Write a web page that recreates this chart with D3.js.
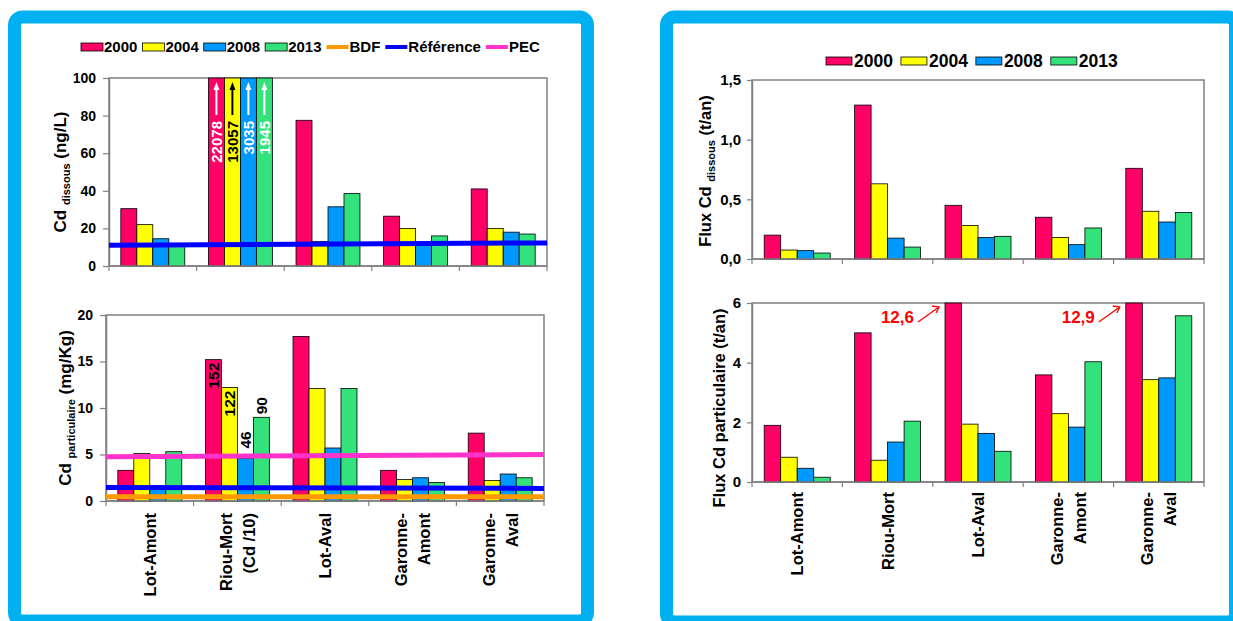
<!DOCTYPE html>
<html lang="fr">
<head>
<meta charset="utf-8">
<title>Cadmium Lot - Garonne</title>
<script src="https://cdn.jsdelivr.net/npm/d3@7"></script>
<style>
  body { margin: 0; background: #fff; }
  svg text { font-family: Arial, "Liberation Sans", sans-serif; font-weight: bold; }
</style>
</head>
<body>
<svg id="chart" width="1233" height="621"></svg>
<script>
var sites = ["Lot-Amont", "Riou-Mort", "Lot-Aval", "Garonne-Amont", "Garonne-Aval"];
var years = ["2000", "2004", "2008", "2013"];
var siteLabelsLeft = [["Lot-Amont"], ["Riou-Mort", "(Cd /10)"], ["Lot-Aval"], ["Garonne-", "Amont"], ["Garonne-", "Aval"]];
var siteLabelsRight = [["Lot-Amont"], ["Riou-Mort"], ["Lot-Aval"], ["Garonne-", "Amont"], ["Garonne-", "Aval"]];

// Cd dissous (ng/L), site order
var dissous2000 = [30.5, 22078, 77.5, 26.5, 41];
var dissous2004 = [22, 13057, 13, 20, 20];
var dissous2008 = [14.5, 3035, 31.5, 11, 18];
var dissous2013 = [12, 1945, 38.5, 16, 17];
var refDissous = [11, 12.3];

// Cd particulaire (mg/Kg), Riou-Mort divided by 10
var part2000 = [3.3, 15.2, 17.7, 3.3, 7.3];
var part2004 = [5.1, 12.2, 12.1, 2.3, 2.2];
var part2008 = [1.6, 4.6, 5.7, 2.5, 2.9];
var part2013 = [5.3, 9.0, 12.1, 2.0, 2.5];
var riouPartLabels = ["152", "122", "46", "90"];
var refPart = [1.45, 1.35];
var pecPart = [4.75, 5.0];
var bdfPart = [0.47, 0.47];

// Flux (t/an)
var fluxDis2000 = [0.20, 1.29, 0.45, 0.35, 0.76];
var fluxDis2004 = [0.075, 0.63, 0.28, 0.18, 0.40];
var fluxDis2008 = [0.07, 0.175, 0.18, 0.12, 0.31];
var fluxDis2013 = [0.05, 0.10, 0.19, 0.26, 0.39];

var fluxPart2000 = [1.9, 5.0, 12.6, 3.59, 12.9];
var fluxPart2004 = [0.83, 0.73, 1.94, 2.29, 3.43];
var fluxPart2008 = [0.46, 1.34, 1.63, 1.84, 3.49];
var fluxPart2013 = [0.16, 2.04, 1.03, 4.03, 5.57];

var colors = ["#FF0066", "#FFFF00", "#0099FF", "#33E27A"];
var svg = d3.select("#chart");

// blue panel frames
svg.append("rect").attr("x", 14.5).attr("y", 17).attr("width", 573).attr("height", 604).attr("rx", 8)
  .attr("fill", "#fff").attr("stroke", "#00B0F0").attr("stroke-width", 13);
svg.append("rect").attr("x", 666.5).attr("y", 17).attr("width", 569).attr("height", 605).attr("rx", 8)
  .attr("fill", "#fff").attr("stroke", "#00B0F0").attr("stroke-width", 13);

function barChart(o) {
  var g = svg.append("g");
  var x = d3.scaleBand().domain(sites).range([o.left, o.right]);
  var bw = x.bandwidth();
  var xs = d3.scaleBand().domain(years).range([bw * 0.135, bw * 0.865]);
  var y = d3.scaleLinear().domain([0, o.max]).range([o.bottom, o.top]).clamp(true);

  // plot frame
  g.append("rect").attr("x", o.left).attr("y", o.top)
    .attr("width", o.right - o.left).attr("height", o.bottom - o.top)
    .attr("fill", "none").attr("stroke", "#808080").attr("stroke-width", 1.5);

  o.series.forEach(function(vals, i) {
    g.selectAll(null).data(vals).enter().append("rect")
      .attr("x", function(d, j) { return x(sites[j]) + xs(years[i]); })
      .attr("y", function(d) { return y(d); })
      .attr("width", xs.bandwidth())
      .attr("height", function(d) { return o.bottom - y(d); })
      .attr("fill", colors[i])
      .attr("stroke", "#000").attr("stroke-width", 0.8);
  });

  var ax = g.append("g").attr("transform", "translate(" + o.left + ",0)")
    .call(d3.axisLeft(y).tickValues(o.ticks).tickFormat(o.fmt)
      .tickSize(o.tickSize).tickPadding(o.tickPad).tickSizeOuter(0));
  ax.attr("font-family", null).attr("font-size", null);
  ax.select(".domain").attr("stroke", "#808080").attr("stroke-width", 1.5);
  ax.selectAll(".tick line").attr("stroke", "#808080").attr("stroke-width", 1.2);
  ax.selectAll(".tick text").attr("font-size", o.tickFont).attr("fill", "#000");

  // x axis with ticks at group boundaries
  g.append("line").attr("x1", o.left).attr("x2", o.right).attr("y1", o.bottom).attr("y2", o.bottom)
    .attr("stroke", "#808080").attr("stroke-width", 1.5);
  var bounds = sites.map(function(s) { return x(s); }).concat([o.right]);
  g.selectAll(null).data(bounds).enter().append("line")
    .attr("x1", function(d) { return d; }).attr("x2", function(d) { return d; })
    .attr("y1", o.bottom).attr("y2", o.bottom + 5)
    .attr("stroke", "#808080").attr("stroke-width", 1.2);

  // y title
  var t = g.append("text")
    .attr("transform", "translate(" + o.titleX + "," + o.titleY + ") rotate(-90)")
    .attr("text-anchor", "middle").attr("fill", "#000");
  o.title.forEach(function(p) {
    t.append("tspan").attr("font-size", p[1]).attr("dy", p[2]).text(p[0]);
  });

  return { g: g, x: x, xs: xs, y: y };
}

function siteLabels(c, labels, top) {
  var fs = 16.5, lh = 23;
  labels.forEach(function(lines, i) {
    var cx = c.x(sites[i]) + c.x.bandwidth() / 2;
    var t = c.g.append("text").attr("transform", "translate(" + cx + "," + top + ") rotate(-90)")
      .attr("text-anchor", "end").attr("font-size", fs).attr("fill", "#000");
    lines.forEach(function(l, k) {
      t.append("tspan").attr("x", 0).attr("y", k * lh - (lines.length - 1) * lh / 2 + 6).text(l);
    });
  });
}

function refLine(c, vals, color) {
  var xr = c.x.range();
  var line = d3.line().x(function(d, i) { return xr[i]; }).y(function(d) { return c.y(d); });
  c.g.append("path").datum(vals).attr("d", line)
    .attr("fill", "none").attr("stroke", color).attr("stroke-width", 5);
}

function legend(items, x0, yc, fs, sw, gapText, gapNext) {
  var x = x0;
  items.forEach(function(it) {
    if (it.type === "bar") {
      svg.append("rect").attr("x", x).attr("y", yc - 4).attr("width", sw).attr("height", 8)
        .attr("fill", it.color).attr("stroke", "#000").attr("stroke-width", 0.8);
    } else {
      svg.append("line").attr("x1", x).attr("x2", x + sw).attr("y1", yc).attr("y2", yc)
        .attr("stroke", it.color).attr("stroke-width", 4);
    }
    var t = svg.append("text").attr("x", x + sw + gapText).attr("y", yc)
      .attr("dy", "0.36em").attr("font-size", fs).attr("fill", "#000").text(it.label);
    x = x + sw + gapText + t.node().getComputedTextLength() + gapNext;
  });
}

var barItems = years.map(function(yr, i) { return { type: "bar", color: colors[i], label: yr }; });

// ---------- left top : Cd dissous ----------
var lt = barChart({
  left: 109, right: 547, top: 78, bottom: 266, max: 100,
  ticks: [0, 20, 40, 60, 80, 100], fmt: d3.format("d"),
  tickSize: 6, tickPad: 7, tickFont: 14,
  series: [dissous2000, dissous2004, dissous2008, dissous2013],
  titleX: 66, titleY: 172,
  title: [["Cd ", 17, 0], ["dissous", 11, 4], [" (ng/L)", 17, -4]]
});
refLine(lt, refDissous, "#0000FF");

// arrows and true values on the clipped Riou-Mort bars
var riouDis = [dissous2000[1], dissous2004[1], dissous2008[1], dissous2013[1]];
var riouInk = ["#fff", "#000", "#fff", "#fff"];
riouDis.forEach(function(v, i) {
  var cx = lt.x("Riou-Mort") + lt.xs(years[i]) + lt.xs.bandwidth() / 2;
  var top = lt.y(v);
  lt.g.append("line").attr("x1", cx).attr("x2", cx).attr("y1", top + 37).attr("y2", top + 10)
    .attr("stroke", riouInk[i]).attr("stroke-width", 2);
  lt.g.append("path").attr("d", "M" + (cx - 3) + "," + (top + 12) + "L" + cx + "," + (top + 4) + "L" + (cx + 3) + "," + (top + 12) + "Z")
    .attr("fill", riouInk[i]);
  lt.g.append("text").attr("transform", "translate(" + cx + "," + (top + 43) + ") rotate(-90)")
    .attr("text-anchor", "end").attr("dominant-baseline", "central")
    .attr("font-size", 15).attr("fill", riouInk[i]).text(d3.format("d")(v));
});

legend(barItems.concat([
  { type: "line", color: "#FF9900", label: "BDF" },
  { type: "line", color: "#0000FF", label: "Référence" },
  { type: "line", color: "#FF33CC", label: "PEC" }
]), 81, 47, 15, 22, 1, 5);

// ---------- left bottom : Cd particulaire ----------
var lb = barChart({
  left: 106, right: 544, top: 315, bottom: 501, max: 20,
  ticks: [0, 5, 10, 15, 20], fmt: d3.format("d"),
  tickSize: 6, tickPad: 7, tickFont: 14,
  series: [part2000, part2004, part2008, part2013],
  titleX: 71, titleY: 408,
  title: [["Cd ", 17, 0], ["particulaire", 11, 4], [" (mg/Kg)", 17, -4]]
});
refLine(lb, pecPart, "#FF33CC");
refLine(lb, refPart, "#0000FF");
refLine(lb, bdfPart, "#FF9900");

var riouPart = [part2000[1], part2004[1], part2008[1], part2013[1]];
var pecTop = d3.min(pecPart, function(d) { return lb.y(d); }) - 3;
riouPart.forEach(function(v, i) {
  var cx = lb.x("Riou-Mort") + lb.xs(years[i]) + lb.xs.bandwidth() / 2;
  var t = lb.g.append("text").attr("font-size", 15.5).attr("fill", "#000")
    .attr("dominant-baseline", "central").text(riouPartLabels[i]);
  if (i < 2) {
    t.attr("text-anchor", "end").attr("transform", "translate(" + cx + "," + (lb.y(v) + 3) + ") rotate(-90)");
  } else {
    var base = Math.min(lb.y(v), pecTop) - 3;
    t.attr("text-anchor", "start").attr("transform", "translate(" + cx + "," + base + ") rotate(-90)");
  }
});
siteLabels(lb, siteLabelsLeft, 513);

// ---------- right top : flux dissous ----------
var rt = barChart({
  left: 752, right: 1204, top: 80, bottom: 259, max: 1.5,
  ticks: [0, 0.5, 1, 1.5], fmt: function(d) { return d3.format(".1f")(d).replace(".", ","); },
  tickSize: 5, tickPad: 6, tickFont: 15,
  series: [fluxDis2000, fluxDis2004, fluxDis2008, fluxDis2013],
  titleX: 711, titleY: 171,
  title: [["Flux Cd ", 16.5, 0], ["dissous", 11, 4], [" (t/an)", 16.5, -4]]
});
legend(barItems, 826, 61, 17.5, 26, 2, 8);

// ---------- right bottom : flux particulaire ----------
var rb = barChart({
  left: 752, right: 1204, top: 303, bottom: 482, max: 6,
  ticks: [0, 2, 4, 6], fmt: d3.format("d"),
  tickSize: 5, tickPad: 6, tickFont: 15,
  series: [fluxPart2000, fluxPart2004, fluxPart2008, fluxPart2013],
  titleX: 725, titleY: 408,
  title: [["Flux Cd particulaire (t/an)", 16.5, 0]]
});
siteLabels(rb, siteLabelsRight, 492);

// values of the clipped 2000 bars
fluxPart2000.forEach(function(v, j) {
  if (v <= rb.y.domain()[1]) return;
  var bx = rb.x(sites[j]) + rb.xs(years[0]);
  var tipX = bx - 6, tipY = rb.y(v) + 4;
  var tailX = tipX - 21, tailY = tipY + 15;
  rb.g.append("line").attr("x1", tailX).attr("y1", tailY).attr("x2", tipX).attr("y2", tipY)
    .attr("stroke", "#FF0000").attr("stroke-width", 1.3);
  rb.g.append("path").attr("d", "M" + (tipX - 7) + "," + (tipY - 1) + "L" + tipX + "," + tipY + "L" + (tipX - 3) + "," + (tipY + 6))
    .attr("fill", "none").attr("stroke", "#FF0000").attr("stroke-width", 1.3);
  rb.g.append("text").attr("x", tailX - 4).attr("y", tailY + 1).attr("text-anchor", "end")
    .attr("font-size", 17).attr("fill", "#FF0000").text(d3.format(".1f")(v).replace(".", ","));
});
</script>
</body>
</html>
